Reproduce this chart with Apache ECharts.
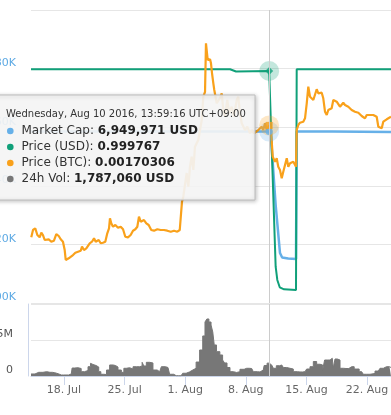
<!DOCTYPE html>
<html><head><meta charset="utf-8">
<script src="https://cdn.jsdelivr.net/npm/echarts@6/dist/echarts.min.js"></script>
<style>html,body{margin:0;padding:0;background:#fff;overflow:hidden}#c{width:391px;height:415px}</style>
</head><body><div id="c"></div>
<script>
// ---- x axis (days counted from 18 Jul 2016) ----
const tickDays = [0, 7, 14, 21, 28, 35];
const tickLabels = ['18. Jul', '25. Jul', '1. Aug', '8. Aug', '15. Aug', '22. Aug'];
const dayMin = -3.812, dayMax = 37.773;
const tipDay = 23.7;

// ---- Market Cap (USD) ----
const marketCapDays = [-3.81, 2, 8, 14, 20, 23.7, 23.9, 24.45, 24.95, 25.2, 25.9, 26.8, 26.88, 31, 37.77];
const marketCap = [6958500, 6958500, 6958500, 6958500, 6958500, 6958500, 6957000, 6933450, 6917060, 6915530, 6915190, 6915020, 6958500, 6958500, 6958400];

// ---- Price (USD) ----
const priceUsdDays = [-3.81, 5, 12, 19.18, 19.87, 23.7, 24.45, 24.64, 24.92, 25.42, 26.8, 26.88, 33, 37.77];
const priceUsd = [0.999807, 0.999807, 0.999807, 0.999807, 0.999754, 0.999767, 0.995071, 0.994752, 0.994577, 0.994529, 0.994512, 0.999807, 0.999807, 0.999807];

// ---- Price (BTC) ----
const priceBtcDays = [-3.78,-3.58,-3.32,-3.08,-2.81,-2.62,-2.43,-2.23,-2.04,-1.77,-1.47,-1.16,-0.89,-0.61,-0.38,-0.12,
 0.08,0.20,0.38,0.54,0.77,1.04,1.31,1.62,1.93,2.08,2.31,2.58,2.97,3.23,3.47,3.66,4.01,4.24,4.50,4.77,
 5.00,5.20,5.31,5.46,5.66,5.93,6.24,6.55,6.82,7.08,7.39,7.70,7.97,8.24,8.47,8.66,8.86,9.04,9.24,9.51,9.78,
 10.08,10.40,10.78,11.17,11.55,11.93,12.33,12.71,13.09,13.37,13.55,13.63,13.78,14.17,14.36,14.55,14.75,14.94,
 15.13,15.51,15.91,16.09,16.29,16.40,16.55,16.60,16.75,16.87,16.98,17.10,17.25,17.36,17.64,18.02,18.22,18.40,
 18.60,18.86,19.09,19.37,19.64,19.95,20.13,20.33,20.53,20.91,21.17,21.49,21.68,21.95,22.18,22.44,22.64,22.84,
 23.02,23.22,23.41,23.7,23.91,24.11,24.37,24.57,24.75,24.95,25.15,25.33,25.53,25.73,25.91,26.11,26.30,26.49,
 26.68,26.80,26.88,27.07,27.26,27.46,27.64,27.84,28.04,28.22,28.42,28.61,28.80,28.99,29.19,29.38,29.57,29.77,
 29.95,30.15,30.35,30.53,30.73,30.92,31.11,31.30,31.50,31.69,31.88,32.08,32.26,32.46,32.66,32.84,33.04,33.23,
 33.42,33.61,33.81,34.00,34.19,34.39,34.57,34.77,34.97,35.15,35.35,35.54,35.73,35.92,36.12,36.31,36.50,36.70,
 36.88,37.08,37.28,37.46,37.77];
const priceBtc = [0.0015121,0.0015246,0.0015275,0.0015160,0.0015121,0.0015200,0.0015160,0.0015075,0.0015046,0.0015087,0.0015046,0.0015063,0.0015177,0.0015143,0.0015087,0.0015046,
 0.0014904,0.0014734,0.0014705,0.0014763,0.0014734,0.0014819,0.0014858,0.0014875,0.0014892,0.0014961,0.0014904,0.0014933,0.0015019,0.0015046,0.0015104,0.0015046,0.0015075,0.0015019,0.0015029,0.0015046,
 0.0015189,0.0015275,0.0015445,0.0015360,0.0015302,0.0015331,0.0015285,0.0015302,0.0015258,0.0015131,0.0015121,0.0015160,0.0015234,0.0015258,0.0015302,0.0015473,0.0015387,0.0015360,0.0015416,0.0015360,0.0015331,
 0.0015246,0.0015234,0.0015258,0.0015246,0.0015246,0.0015234,0.0015217,0.0015234,0.0015217,0.0015246,0.0015258,0.0015729,0.0015814,0.0016218,0.0015985,0.0016321,0.0016497,0.0016270,
 0.0016667,0.0016782,0.0017123,0.0017520,0.0017601,0.0018432,0.0018432,0.0018147,0.0018118,0.0018159,0.0018090,0.0017920,0.0017749,0.0017635,0.0017408,0.0017498,0.0017578,0.0017294,
 0.0017179,0.0017464,0.0017242,0.0017350,0.0017179,0.0017464,0.0017520,0.0017237,0.0017067,0.0016952,0.0017008,0.0016896,0.0016952,0.0016896,0.0016884,0.0016952,0.0016923,0.0017008,
 0.0016952,0.0017067,0.0016952,0.00170306,0.0016952,0.0016497,0.0016411,0.0016469,0.0016326,0.0016270,0.0016128,0.0016241,0.0016355,0.0016469,0.0016326,0.0016384,0.0016355,0.0016411,
 0.0016384,0.0016326,0.0016952,0.0017038,0.0017077,0.0017111,0.0017094,0.0017152,0.0017408,0.0017691,0.0017520,0.0017549,0.0017464,0.0017493,0.0017647,0.0017578,0.0017606,0.0017589,
 0.0017493,0.0017264,0.0017208,0.0017294,0.0017264,0.0017323,0.0017464,0.0017476,0.0017435,0.0017408,0.0017350,0.0017379,0.0017418,0.0017379,0.0017408,0.0017350,0.0017362,0.0017294,
 0.0017323,0.0017264,0.0017282,0.0017247,0.0017225,0.0017191,0.0017179,0.0017152,0.0017208,0.0017179,0.0017208,0.0017191,0.0017208,0.0017208,0.0017179,0.0017008,0.0017020,0.0016981,
 0.0017094,0.0017123,0.0017135,0.0017123,0.0017179];

// ---- 24h Volume (USD) ----
const volumeDays = [-3.81,-3.35,-2.92,-2.43,-2.00,-1.62,-1.07,-0.69,-0.31,0.23,0.84,1.04,1.42,1.81,2.16,2.58,2.97,3.15,3.35,3.70,3.90,
 4.12,4.39,4.74,5.08,5.46,5.85,6.04,6.43,6.82,7.01,7.39,7.78,8.17,8.55,8.93,9.12,9.32,9.70,10.08,10.47,11.05,11.44,12.01,12.39,12.96,
 13.52,13.91,14.30,14.68,15.07,15.45,15.88,16.17,16.40,16.61,16.87,17.10,17.27,17.44,17.79,18.22,18.42,18.68,18.98,19.37,19.75,20.13,
 20.52,21.10,21.68,22.06,22.64,23.02,23.22,23.7,23.99,24.37,24.68,25.15,25.53,25.91,26.30,26.68,27.26,27.84,28.22,28.61,28.99,29.38,
 29.77,29.98,30.23,30.73,30.99,31.22,31.39,31.77,32.00,32.57,33.23,33.81,34.38,34.77,35.15,35.54,36.31,36.70,37.08,37.43,37.77];
const volume = [280000,280000,510000,510000,600000,510000,460000,320000,140000,140000,280000,1110000,1150000,1040000,600000,760000,1290000,1760000,1600000,1460000,1250000,
 600000,240000,210000,830000,1530000,1460000,1250000,830000,510000,1070000,1150000,970000,1290000,1290000,1390000,1900000,1390000,1900000,1810000,830000,600000,1290000,1180000,240000,40000,
 20000,380000,560000,830000,1070000,1940000,3610000,5560000,7500000,7920000,7500000,7080000,6110000,4310000,3380000,2920000,2220000,1810000,1180000,600000,490000,600000,
 930000,1070000,1040000,600000,560000,830000,1460000,1787060,1530000,1070000,1430000,1530000,1180000,1070000,970000,600000,560000,600000,970000,1290000,2010000,1630000,
 1530000,830000,2220000,2220000,2460000,1110000,2360000,2220000,1070000,1040000,1290000,970000,600000,240000,240000,350000,690000,1070000,1290000,1290000,1180000];

// ---- tooltip ----
const tooltipTitle = 'Wednesday, Aug 10 2016, 13:59:16 UTC+09:00';
const tooltipLabels = ['Market Cap', 'Price (USD)', 'Price (BTC)', '24h Vol'];
const tooltipValues = [6949971, 0.999767, 0.00170306, 1787060];

const FONT = 'DejaVu Sans';
const C_BLUE = '#66b0e8', C_GREEN = '#10a079', C_ORANGE = '#f9a11b', C_VOL = '#777777';
const fmtInt = n => String(Math.round(n)).replace(/\B(?=(\d{3})+(?!\d))/g, ',');
const pair = (d, v) => d.map((x, i) => [x, v[i]]);
const at = (d, v, x) => v[d.indexOf(x)];

const tipBlue = at(marketCapDays, marketCap, tipDay);
const tipGreen = at(priceUsdDays, priceUsd, tipDay);
const tipOrange = at(priceBtcDays, priceBtc, tipDay);

const tooltipTexts = [fmtInt(tooltipValues[0]) + ' USD', String(tooltipValues[1]), String(tooltipValues[2]), fmtInt(tooltipValues[3]) + ' USD'];
const bulletColors = [C_BLUE, C_GREEN, C_ORANGE, C_VOL];

const crosshair = {silent: true, symbol: ['none', 'none'], label: {show: false}, emphasis: {disabled: true},
  lineStyle: {color: '#cccccc', width: 1, type: 'solid'}, data: [{xAxis: tipDay}]};

const graphics = [
  {type: 'rect', z: 100, shape: {x: -10, y: 95, width: 265, height: 105},
   style: {fill: 'rgba(249,249,249,0.9)', stroke: '#bdbdbd', lineWidth: 1, shadowBlur: 4, shadowOffsetX: 1, shadowOffsetY: 1, shadowColor: 'rgba(0,0,0,0.25)'}},
  {type: 'text', z: 101, x: 6, y: 114.5, style: {text: tooltipTitle, fill: '#333', fontSize: 10, fontFamily: FONT, verticalAlign: 'middle'}}
];
tooltipLabels.forEach((lab, i) => {
  const cy = 131 + i * 16;
  graphics.push({type: 'circle', z: 101, shape: {cx: 10.3, cy: cy, r: 3.3}, style: {fill: bulletColors[i]}});
  graphics.push({type: 'text', z: 101, x: 21.5, y: cy, style: {
    text: '{l|' + lab + ': }{v|' + tooltipTexts[i] + '}', verticalAlign: 'middle', fontFamily: FONT, fontSize: 12, fill: '#333',
    rich: {l: {fontFamily: FONT, fontSize: 12, fill: '#333'}, v: {fontFamily: FONT, fontSize: 12, fontWeight: 'bold', fill: '#222'}}}});
});

const chart = echarts.init(document.getElementById('c'), null, {renderer: 'canvas'});
chart.setOption({
  animation: false,
  backgroundColor: '#ffffff',
  grid: [
    {left: 31, right: 0, top: 10, height: 293, containLabel: false, outerBoundsMode: 'none'},
    {left: 31, right: 0, top: 304, height: 72, containLabel: false, outerBoundsMode: 'none'}
  ],
  xAxis: [
    {type: 'value', gridIndex: 0, min: dayMin, max: dayMax, show: false},
    {type: 'value', gridIndex: 1, min: dayMin, max: dayMax,
     axisLine: {show: true, onZero: false, lineStyle: {color: '#ccd6eb'}},
     axisTick: {show: true, customValues: tickDays, length: 9, lineStyle: {color: '#ccd6eb'}},
     axisLabel: {customValues: tickDays, formatter: v => tickLabels[tickDays.indexOf(v)], color: '#666', fontFamily: FONT, fontSize: 11, margin: 9},
     splitLine: {show: false}}
  ],
  yAxis: [
    {type: 'value', gridIndex: 0, min: 6900000, max: 7000000, interval: 20000,
     axisLine: {show: false, onZero: false}, axisTick: {show: false},
     axisLabel: {formatter: v => fmtInt(v / 1000) + 'K', color: '#5eaae4', fontFamily: FONT, fontSize: 11, margin: 15, verticalAlign: 'bottom', showMaxLabel: false},
     splitLine: {lineStyle: {color: '#e6e6e6'}}},
    {type: 'value', gridIndex: 0, min: 0.9942, max: 1.00123, show: false},
    {type: 'value', gridIndex: 0, min: 0.0014, max: 0.0019, show: false},
    {type: 'value', gridIndex: 1, min: 0, max: 10000000, interval: 5000000, offset: 3,
     axisLine: {show: true, onZero: false, lineStyle: {color: '#ccd6eb'}}, axisTick: {show: false},
     axisLabel: {formatter: v => v === 0 ? '0' : (v / 1e6) + 'M', color: '#555', fontFamily: FONT, fontSize: 11, margin: 15, verticalAlign: 'bottom', showMaxLabel: false},
     splitLine: {lineStyle: {color: '#e6e6e6'}}}
  ],
  series: [
    {type: 'line', name: 'Market Cap', xAxisIndex: 0, yAxisIndex: 0, data: pair(marketCapDays, marketCap), showSymbol: false,
     lineStyle: {color: C_BLUE, width: 2.5}, itemStyle: {color: C_BLUE}, markLine: crosshair},
    {type: 'line', name: 'Price (USD)', xAxisIndex: 0, yAxisIndex: 1, data: pair(priceUsdDays, priceUsd), showSymbol: false,
     lineStyle: {color: C_GREEN, width: 2}, itemStyle: {color: C_GREEN}},
    {type: 'line', name: 'Price (BTC)', xAxisIndex: 0, yAxisIndex: 2, data: pair(priceBtcDays, priceBtc), showSymbol: false,
     lineStyle: {color: C_ORANGE, width: 2.2}, itemStyle: {color: C_ORANGE}},
    {type: 'line', name: '24h Vol', xAxisIndex: 1, yAxisIndex: 3, data: pair(volumeDays, volume), showSymbol: false, step: 'middle',
     lineStyle: {color: C_VOL, width: 1}, itemStyle: {color: C_VOL}, areaStyle: {color: C_VOL, opacity: 1}, markLine: crosshair},
    // hover halos
    {type: 'scatter', xAxisIndex: 0, yAxisIndex: 0, data: [[tipDay, tipBlue]], symbol: 'circle', symbolSize: 20, silent: true, z: 3, itemStyle: {color: C_BLUE, opacity: 0.25}},
    {type: 'scatter', xAxisIndex: 0, yAxisIndex: 1, data: [[tipDay, tipGreen]], symbol: 'circle', symbolSize: 20, silent: true, z: 3, itemStyle: {color: C_GREEN, opacity: 0.25}},
    {type: 'scatter', xAxisIndex: 0, yAxisIndex: 2, data: [[tipDay, tipOrange]], symbol: 'circle', symbolSize: 20, silent: true, z: 3, itemStyle: {color: C_ORANGE, opacity: 0.25}},
    // hover markers
    {type: 'scatter', xAxisIndex: 0, yAxisIndex: 0, data: [[tipDay, tipBlue]], symbol: 'circle', symbolSize: 7, silent: true, z: 4, itemStyle: {color: C_BLUE}},
    {type: 'scatter', xAxisIndex: 0, yAxisIndex: 1, data: [[tipDay, tipGreen]], symbol: 'diamond', symbolSize: 8, silent: true, z: 4, itemStyle: {color: C_GREEN}},
    {type: 'scatter', xAxisIndex: 0, yAxisIndex: 2, data: [[tipDay, tipOrange]], symbol: 'rect', symbolSize: 7, silent: true, z: 4, itemStyle: {color: C_ORANGE}}
  ],
  graphic: {elements: graphics}
});
</script></body></html>
